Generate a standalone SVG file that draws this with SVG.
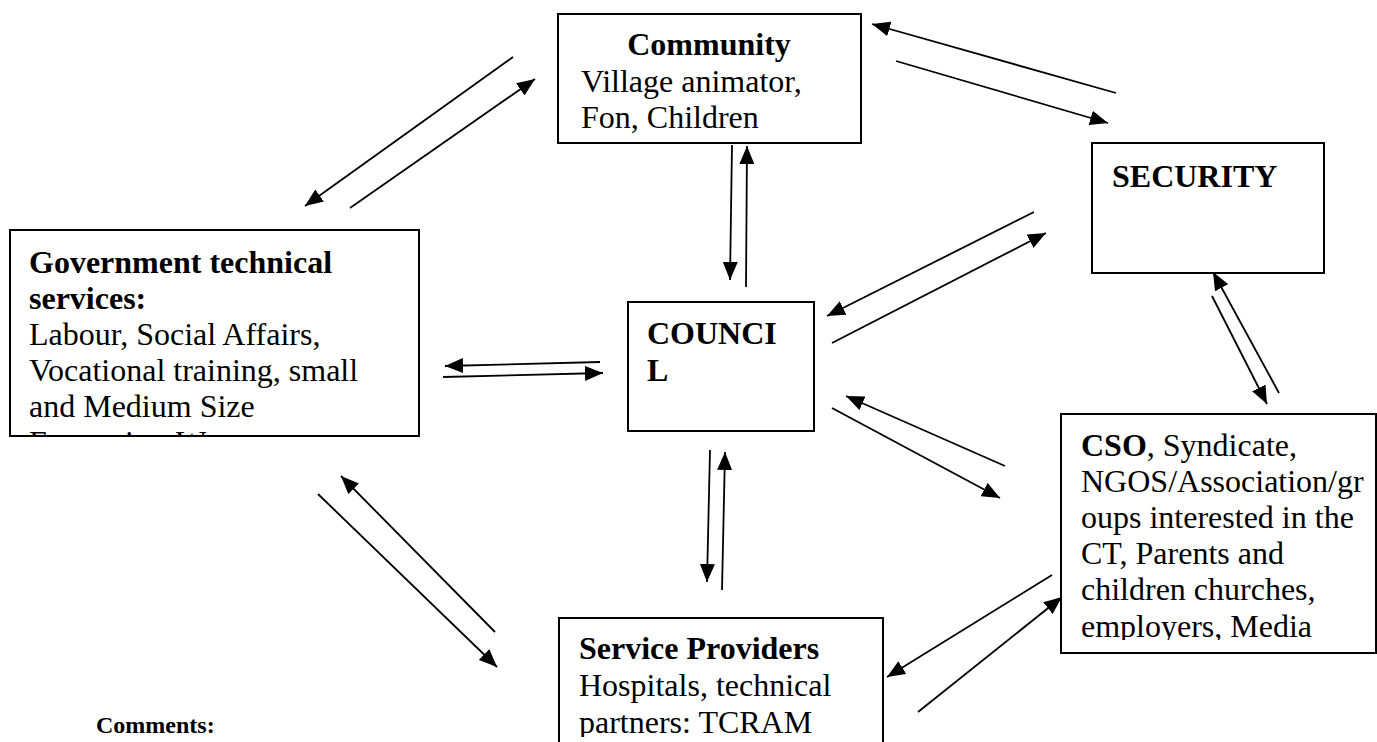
<svg xmlns="http://www.w3.org/2000/svg" width="1377" height="742" viewBox="0 0 1377 742">
<style>
.box{fill:#fff;stroke:#000;stroke-width:2}
.t{font-family:"Liberation Serif","Times New Roman",serif;font-size:32px;fill:#000}
.b{font-weight:bold}
.c line{stroke:#000;stroke-width:1.8;marker-end:url(#ah)}
</style>
<defs>
<marker id="ah" markerUnits="userSpaceOnUse" markerWidth="19" markerHeight="15" refX="18" refY="7.5" orient="auto">
<path d="M0,0 L18,7.5 L0,15 z" fill="#000"/>
</marker>
<clipPath id="cg"><rect x="10" y="230" width="409" height="205"/></clipPath>
<clipPath id="cc"><rect x="1061" y="414" width="316" height="226"/></clipPath>
<clipPath id="cs"><rect x="559" y="618" width="324" height="119"/></clipPath>
</defs>
<g id="connectors" class="c">
<line x1="513" y1="57" x2="305" y2="206"/>
<line x1="350" y1="208" x2="535" y2="79"/>
<line x1="1116" y1="93" x2="872" y2="24"/>
<line x1="896" y1="61" x2="1108" y2="123"/>
<line x1="732" y1="145" x2="730" y2="280"/>
<line x1="746" y1="287" x2="747" y2="146"/>
<line x1="1034" y1="212" x2="827" y2="316"/>
<line x1="832" y1="343" x2="1046" y2="233"/>
<line x1="600" y1="362" x2="445" y2="366"/>
<line x1="443" y1="377" x2="603" y2="373"/>
<line x1="1279" y1="393" x2="1213" y2="272"/>
<line x1="1212" y1="296" x2="1267" y2="404"/>
<line x1="495" y1="632" x2="341" y2="476"/>
<line x1="318" y1="494" x2="497" y2="667"/>
<line x1="710" y1="450" x2="707" y2="582"/>
<line x1="722" y1="590" x2="725" y2="452"/>
<line x1="1005" y1="466" x2="846" y2="396"/>
<line x1="832" y1="408" x2="1000" y2="498"/>
<line x1="1052" y1="575" x2="887" y2="677"/>
<line x1="918" y1="712" x2="1062" y2="597"/>
</g>
<g id="community">
<rect class="box" x="558" y="14" width="303" height="129"/>
<text class="t b" x="709" y="55" text-anchor="middle">Community</text>
<text class="t" x="581" y="92">Village animator,</text>
<text class="t" x="581" y="128">Fon, Children</text>
</g>
<g id="security">
<rect class="box" x="1092" y="143" width="232" height="130"/>
<text class="t b" x="1112" y="187">SECURITY</text>
</g>
<g id="government">
<rect class="box" x="10" y="230" width="409" height="206"/>
<g clip-path="url(#cg)">
<text class="t b" x="29" y="273">Government technical</text>
<text class="t b" x="29" y="309">services:</text>
<text class="t" x="29" y="345">Labour, Social Affairs,</text>
<text class="t" x="29" y="381">Vocational training, small</text>
<text class="t" x="29" y="417">and Medium Size</text>
<text class="t" x="29" y="453">Enterprise, W</text>
</g>
</g>
<g id="council">
<rect class="box" x="628" y="302" width="186" height="129"/>
<text class="t b" x="647" y="344">COUNCI</text>
<text class="t b" x="647" y="381">L</text>
</g>
<g id="cso">
<rect class="box" x="1061" y="414" width="315" height="239"/>
<g clip-path="url(#cc)">
<text class="t" x="1081" y="456"><tspan class="b">CSO</tspan>, Syndicate,</text>
<text class="t" x="1081" y="492">NGOS/Association/gr</text>
<text class="t" x="1081" y="528">oups interested in the</text>
<text class="t" x="1081" y="564">CT, Parents and</text>
<text class="t" x="1081" y="600">children churches,</text>
<text class="t" x="1081" y="637">employers, Media</text>
</g>
</g>
<g id="service-providers">
<rect class="box" x="559" y="618" width="324" height="140"/>
<g clip-path="url(#cs)">
<text class="t b" x="579" y="659">Service Providers</text>
<text class="t" x="579" y="696">Hospitals, technical</text>
<text class="t" x="579" y="733">partners: TCRAM</text>
</g>
</g>
<text class="t b" x="96" y="733" style="font-size:24px">Comments:</text>
</svg>
